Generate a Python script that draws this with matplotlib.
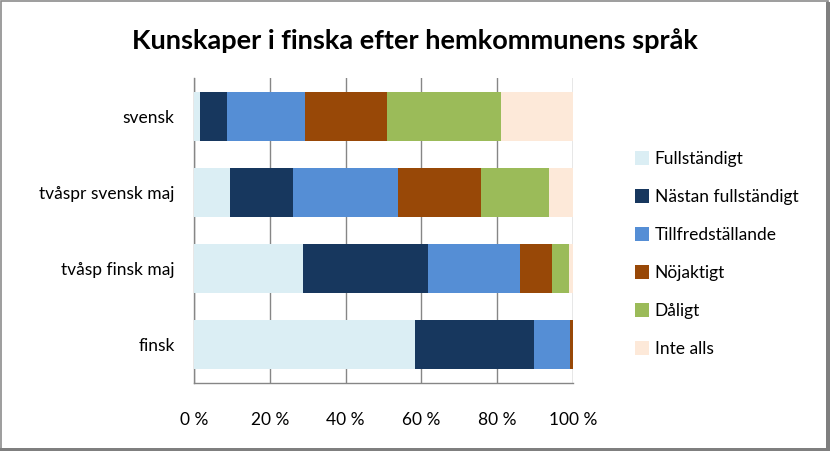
import numpy as np
import matplotlib
matplotlib.use("Agg")
import matplotlib.pyplot as plt
from matplotlib.patches import Rectangle

plt.rcParams['font.family'] = ['Lato', 'DejaVu Sans']

categories = ["svensk", "tvåspr svensk maj", "tvåsp finsk maj", "finsk"]
levels = ["Fullständigt", "Nästan fullständigt", "Tillfredställande",
          "Nöjaktigt", "Dåligt", "Inte alls"]
colors = ["#dbeef4", "#17375e", "#558ed5", "#984807", "#9bbb59", "#fde9d9"]

# percent shares per category, order as in levels
fullst = [1.5, 9.4, 28.7, 58.3]
nastan = [7.1, 16.7, 33.0, 31.5]
tillfr = [20.6, 27.8, 24.3, 9.3]
nojakt = [21.7, 21.9, 8.5, 1.0]
daligt = [30.1, 18.0, 4.5, 0.0]
inte = [18.9, 6.3, 1.0, 0.0]
series = [fullst, nastan, tillfr, nojakt, daligt, inte]

fig = plt.figure(figsize=(8.3, 4.51), dpi=100)
ax = fig.add_axes([0.2337, 0.1508, 0.4566, 0.676])

# outer frame with shadow on right/bottom
fig.patches.append(Rectangle((0.001, 0.002), 0.996, 0.996, transform=fig.transFigure,
                             fill=False, edgecolor="#8c8c8c", linewidth=1.2))
fig.patches.append(Rectangle((0.9955, 0.0), 0.0045, 0.996, transform=fig.transFigure,
                             facecolor="#7f7f7f", edgecolor="none"))
fig.patches.append(Rectangle((0.0, 0.0), 0.999, 0.006, transform=fig.transFigure,
                             facecolor="#7f7f7f", edgecolor="none"))

y = np.arange(len(categories))[::-1]
left = np.zeros(len(categories))
for vals, col, lab in zip(series, colors, levels):
    vals = np.array(vals)
    ax.barh(y, vals, left=left, height=0.64, color=col, label=lab, zorder=3)
    left += vals

ax.set_xlim(0, 100)
ax.set_ylim(-0.5, len(categories) - 0.5)
ax.set_xticks(np.arange(0, 101, 20))
ax.set_xticklabels([f"{v} %" for v in range(0, 101, 20)], fontsize=12.5)
ax.set_yticks(y)
ax.set_yticklabels(categories, fontsize=12.5)
ax.tick_params(axis="x", length=0, pad=21)
ax.tick_params(axis="y", length=0, pad=14)
ax.grid(axis="x", color="#868686", linewidth=1, zorder=0)
for s in ["top", "right"]:
    ax.spines[s].set_visible(False)
for s in ["left", "bottom"]:
    ax.spines[s].set_color("#868686")
    ax.spines[s].set_linewidth(1)

fig.text(0.5, 0.91, "Kunskaper i finska efter hemkommunens språk",
         ha="center", va="center", fontsize=19.5, fontweight="bold")

leg = fig.legend(loc="upper left", bbox_to_anchor=(0.746, 0.7), frameon=False,
                 fontsize=12.5, handlelength=0.8, handleheight=0.8,
                 handletextpad=0.35, labelspacing=1.27)

fig.savefig("out.png", dpi=100)
